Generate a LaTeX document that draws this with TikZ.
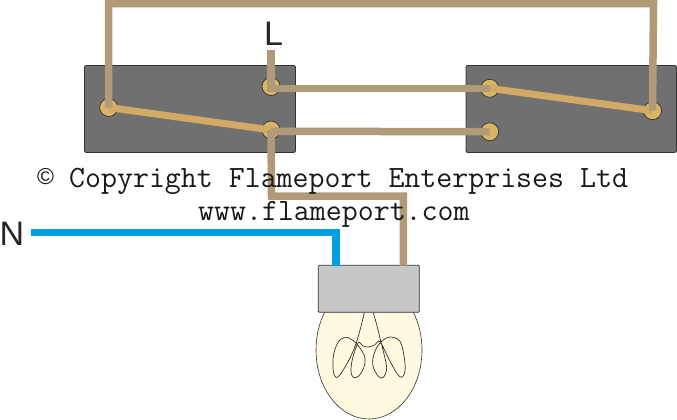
\documentclass[tikz,border=0pt]{standalone}
\usepackage{fontspec}
\usetikzlibrary{shapes.geometric}
\setmainfont{Liberation Sans}
\definecolor{wirebrown}{HTML}{B09A78}
\definecolor{wireblue}{HTML}{00A0E3}
\definecolor{lever}{HTML}{D2A965}
\definecolor{termfill}{HTML}{D9B566}
\definecolor{boxgrey}{HTML}{707070}
\definecolor{holdergrey}{HTML}{C6C8C7}
\definecolor{bulbfill}{HTML}{FFFADF}
\definecolor{edge}{HTML}{333333}
\tikzset{
  switchbox/.style={draw=edge,fill=boxgrey,line width=0.9pt,rounded corners=2pt},
  terminal/.style={circle,draw=edge,fill=termfill,line width=0.7pt,minimum size=18pt,inner sep=0pt},
  leverarm/.style={draw=lever,line width=7pt},
  brownwire/.style={draw=wirebrown,line width=7.5pt,line join=miter},
  bluewire/.style={draw=wireblue,line width=7.5pt,line join=miter},
  labeltext/.style={font=\fontsize{34}{34}\selectfont,text=black!85,inner sep=0pt},
  copytext/.style={font=\fontsize{30.5}{30.5}\selectfont\ttfamily\addfontfeatures{LetterSpace=0}\fontsize{31}{31}\selectfont,text=black!90,inner sep=0pt},
  filament/.style={draw=edge,line width=0.7pt}
}
\begin{document}
\begin{tikzpicture}[x=1pt,y=-1pt]
\useasboundingbox (0,0) rectangle (677,420);
\fill[white] (0,0) rectangle (677,420);
% switches
\draw[switchbox] (84.5,65.5) rectangle (295.5,152.5);
\draw[switchbox] (466,65.5) rectangle (676.5,152.5);
% terminals
\node[terminal] (a) at (108.7,107.5) {};
\node[terminal] (b) at (271,86.5) {};
\node[terminal] (c) at (271,130) {};
\node[terminal] (d) at (489.7,88.3) {};
\node[terminal] (e) at (489.7,131.7) {};
\node[terminal] (f) at (652.5,110.7) {};
% levers
\draw[leverarm] (a.center) -- (c.center);
\draw[leverarm] (d.center) -- (f.center);
% lamp
\coordinate (lampb) at (403.3,265.5);
\coordinate (lampn) at (336,265.5);
\node[draw=edge,line width=0.6pt,fill=bulbfill,ellipse,minimum width=106pt,minimum height=138pt,inner sep=0pt] (bulb) at (369,350) {};
\begin{scope}[shift={(325,308)},x=0.3333pt,y=-0.3333pt]
\draw[filament] plot[smooth,tension=0.6] coordinates {(118,14) (108,55) (92,110) (70,160) (45,200) (33,208) (25,190) (25,145) (38,105) (60,88) (85,98) (105,120) (120,150) (116,180) (100,205) (85,208) (78,190) (83,150) (100,104) (112,113) (130,117) (150,110) (165,101) (190,150) (215,195) (230,208) (240,190) (238,150) (225,100) (195,87) (170,100) (150,130) (143,170) (160,205) (175,208) (185,180) (175,130) (165,90) (155,50) (145,14)};
\end{scope}
\node[draw=edge,fill=holdergrey,line width=0.8pt,rounded corners=1pt,minimum width=101pt,minimum height=47pt,inner sep=0pt] (holder) at (368.8,288.8) {};
% wires
\coordinate (lstart) at (271,50);
\draw[brownwire] (lstart) -- (b.center);
\draw[brownwire] (b.center) |- (d.center);
\draw[brownwire] (c.center) -- ++(0,1.3) -- (e.center);
\coordinate (tl) at (108.7,3.7);
\coordinate (tr) at (653.5,3.7);
\draw[brownwire] (a.center) -- (tl) -- (tr) -- (f.center);
\coordinate (n1) at (271.5,196);
\coordinate (n2) at (403.3,196);
\draw[brownwire] (c.center) -- (n1) -- (n2) -- (lampb);
\coordinate (nstart) at (31,232.7);
\coordinate (n3) at (336,232.7);
\draw[bluewire] (nstart) -- (n3) -- (lampn);
% text
\node[copytext,anchor=base west] (cr) at (37,187.5) {\makebox[32pt][l]{\raisebox{3pt}{\rmfamily\fontsize{23}{23}\selectfont ©}}Copyright Flameport Enterprises Ltd};
\node[copytext,anchor=base west] (web) at (198,220.5) {www.flameport.com};
\node[labeltext] (L) at (273.5,34) {L};
\node[labeltext] (N) at (12,234) {N};
\end{tikzpicture}
\end{document}
